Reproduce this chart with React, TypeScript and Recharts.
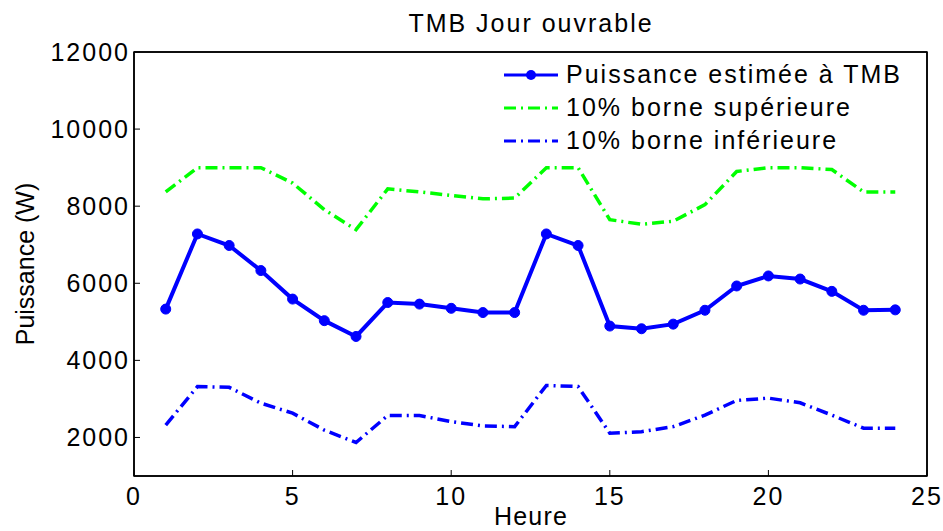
import { LineChart, Line, XAxis, YAxis, ReferenceArea } from 'recharts';

const heures = [1, 2, 3, 4, 5, 6, 7, 8, 9, 10, 11, 12, 13, 14, 15, 16, 17, 18, 19, 20, 21, 22, 23, 24];
const puissance = [5330, 7280, 6980, 6330, 5590, 5030, 4620, 5500, 5460, 5350, 5240, 5240, 7280, 6980, 4890, 4820, 4940, 5300, 5930, 6190, 6110, 5790, 5300, 5310];
const borneSup = [8370, 9000, 9000, 9000, 8600, 7910, 7390, 8450, 8370, 8280, 8190, 8210, 9000, 9000, 7650, 7530, 7610, 8040, 8900, 9000, 9000, 8950, 8370, 8370];
const borneInf = [2320, 3320, 3300, 2890, 2630, 2190, 1870, 2570, 2570, 2410, 2300, 2280, 3350, 3320, 2110, 2150, 2280, 2580, 2960, 3020, 2900, 2580, 2240, 2240];

const xTicks = [0, 5, 10, 15, 20, 25];
const yTicks = [2000, 4000, 6000, 8000, 10000, 12000];
const xDomain: [number, number] = [0, 25];
const yDomain: [number, number] = [1000, 12000];

const data = heures.map((h, i) => ({ h, puissance: puissance[i], sup: borneSup[i], inf: borneInf[i] }));

const FONT = '"Liberation Sans", Arial, sans-serif';
const tickStyle = { fill: '#000', fontSize: 25, letterSpacing: 2, fontFamily: FONT };
const axisLine = { stroke: '#000', strokeWidth: 1.5 };
const DASHDOT = '12 5 2 5';

const legendRows = [
  { label: 'Puissance estimée à TMB', color: '#0000ff', dash: undefined as string | undefined, dot: true },
  { label: '10% borne supérieure', color: '#00ff00', dash: DASHDOT, dot: false },
  { label: '10% borne inférieure', color: '#0000ff', dash: DASHDOT, dot: false },
];

export default function App() {
  return (
    <div style={{ position: 'absolute', left: 0, top: 0, width: 943, height: 531, background: '#fff', fontFamily: FONT }}>
      <LineChart width={943} height={531} data={data} margin={{ top: 51, right: 15, bottom: 0, left: 0 }}>
        <XAxis
          dataKey="h"
          type="number"
          domain={xDomain}
          ticks={xTicks}
          height={55}
          axisLine={axisLine}
          tickLine={{ stroke: '#000' }}
          tickSize={-6}
          tickMargin={17}
          tick={tickStyle}
        />
        <XAxis xAxisId="top" orientation="top" dataKey="h" type="number" domain={xDomain} ticks={xTicks} height={1}
          axisLine={axisLine} tickLine={{ stroke: '#000' }} tickSize={-6} tick={false} />
        <YAxis
          type="number"
          domain={yDomain}
          ticks={yTicks}
          width={134}
          axisLine={axisLine}
          tickLine={{ stroke: '#000' }}
          tickSize={-6}
          tickMargin={10}
          tick={tickStyle}
          allowDataOverflow
        />
        <YAxis yAxisId="right" orientation="right" type="number" domain={yDomain} ticks={yTicks} width={1}
          axisLine={axisLine} tickLine={{ stroke: '#000' }} tickSize={-6} tick={false} />
        <ReferenceArea x1={xDomain[0]} x2={xDomain[1]} y1={yDomain[0]} y2={yDomain[1]} fill="none" stroke="#000" strokeWidth={1.5} fillOpacity={0} />
        {/* invisible twin so the box axes (top/right) get rendered */}
        <Line xAxisId="top" yAxisId="right" type="linear" dataKey="puissance" stroke="none" dot={false} activeDot={false} legendType="none" isAnimationActive={false} />
        <Line type="linear" dataKey="sup" stroke="#00ff00" strokeWidth={3.5} strokeDasharray={DASHDOT} dot={false} isAnimationActive={false} />
        <Line type="linear" dataKey="inf" stroke="#0000ff" strokeWidth={3.5} strokeDasharray={DASHDOT} dot={false} isAnimationActive={false} />
        <Line type="linear" dataKey="puissance" stroke="#0000ff" strokeWidth={4} dot={{ r: 5, fill: '#0000ff', stroke: '#0000ff', strokeWidth: 1 }} isAnimationActive={false} />
      </LineChart>

      <svg width={943} height={531} style={{ position: 'absolute', left: 0, top: 0, pointerEvents: 'none' }}>
        <text x={531} y={32} textAnchor="middle" fontSize={25} letterSpacing={2} fill="#000" fontFamily={FONT}>TMB Jour ouvrable</text>
        <text x={531} y={525} textAnchor="middle" fontSize={25} letterSpacing={1.2} fill="#000" fontFamily={FONT}>Heure</text>
        <text x={0} y={0} transform="translate(34 264) rotate(-90)" textAnchor="middle" fontSize={25} fill="#000" fontFamily={FONT}>Puissance (W)</text>
      </svg>

      <div style={{ position: 'absolute', left: 504, top: 58 }}>
        {legendRows.map((r) => (
          <div key={r.label} style={{ display: 'flex', alignItems: 'center', height: 33 }}>
            <svg width={54} height={20} style={{ marginRight: 8 }}>
              <line x1={0} y1={10} x2={54} y2={10} stroke={r.color} strokeWidth={3} strokeDasharray={r.dash} />
              {r.dot && <circle cx={27} cy={10} r={5} fill={r.color} />}
            </svg>
            <span style={{ fontSize: 25, letterSpacing: 2, color: '#000', whiteSpace: 'nowrap' }}>{r.label}</span>
          </div>
        ))}
      </div>
    </div>
  );
}
